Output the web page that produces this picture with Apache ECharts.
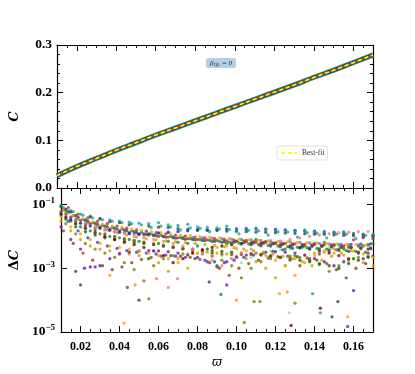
<!DOCTYPE html>
<html><head><meta charset="utf-8">
<script src="https://cdn.jsdelivr.net/npm/echarts@6/dist/echarts.min.js"></script>
<style>html,body{margin:0;padding:0;background:#fff}#c{width:415px;height:374px}</style>
</head><body><div id="c"></div>
<script>
// ---------- data ----------
const omegaFit = [0.01,0.02,0.03,0.04,0.05,0.06,0.07,0.08,0.09,0.10,0.11,0.12,0.13,0.14,0.15,0.16,0.17];
const cFit = [0.026,0.045,0.062,0.079,0.095,0.111,0.126,0.141,0.156,0.171,0.186,0.201,0.216,0.232,0.247,0.263,0.279];
const xMajorTicks = [0.02,0.04,0.06,0.08,0.10,0.12,0.14,0.16];
const xMinorTicks = [0.010,0.015,0.025,0.030,0.035,0.045,0.050,0.055,0.065,0.070,0.075,0.085,0.090,0.095,0.105,0.110,0.115,0.125,0.130,0.135,0.145,0.150,0.155,0.165,0.170];
const yTopLabels = ['0.0','0.1','0.2','0.3'];

const xsA = [0.010,0.015,0.020,0.025,0.030,0.035,0.040,0.045,0.050,0.055,0.060,0.065,0.070,0.075,0.080,0.085,0.090,0.095,0.100,0.105,0.110,0.115,0.120,0.125,0.130,0.135,0.140,0.145,0.150,0.155,0.160,0.165,0.170];
const xsB = [0.0125,0.0175,0.0225,0.0275,0.0325,0.0375,0.0425,0.0475,0.0525,0.0575,0.0625,0.0675,0.0725,0.0775,0.0825,0.0875,0.0925,0.0975,0.1025,0.1075,0.1125,0.1175,0.1225,0.1275,0.1325,0.1375,0.1425,0.1475,0.1525,0.1575,0.1625,0.1675,0.1725];
const xsC = [0.01125,0.01625,0.02125,0.02625,0.03125,0.03625,0.04125,0.04625,0.05125,0.05625,0.06125,0.06625,0.07125,0.07625,0.08125,0.08625,0.09125,0.09625,0.10125,0.10625,0.11125,0.11625,0.12125,0.12625,0.13125,0.13625,0.14125,0.14625,0.15125,0.15625,0.16125,0.16625,0.17125];
const xsD = [0.01375,0.01875,0.02375,0.02875,0.03375,0.03875,0.04375,0.04875,0.05375,0.05875,0.06375,0.06875,0.07375,0.07875,0.08375,0.08875,0.09375,0.09875,0.10375,0.10875,0.11375,0.11875,0.12375,0.12875,0.13375,0.13875,0.14375,0.14875,0.15375,0.15875,0.16375,0.16875,0.17375];

const dcSlate = [0.085,0.058,3e-4,0.041,0.036,0.029,0.027,0.023,1e-4,0.021,0.0195,0.019,0.0175,0.017,0.0162,0.0155,0.0152,0.0146,0.0144,0.0141,0.0136,0.0134,0.0131,0.0127,0.0124,0.0121,0.0117,0.0116,0.0111,0.0107,0.0105,0.0101,0.0099];
const dcTeal = [0.092,0.066,0.05,0.043,0.036,0.033,0.03,0.028,0.026,0.025,0.027,0.023,0.022,0.024,0.02,0.019,0.0185,0.021,0.017,0.0165,0.018,0.0155,0.015,0.0148,0.0144,0.016,0.0135,0.013,0.0128,0.014,0.012,0.0118,0.0115];
const dcNavy = [0.05,0.034,0.026,0.021,0.018,0.0155,0.0135,0.0122,0.0115,0.012,0.0128,0.0135,0.0142,0.015,0.0156,0.016,0.0165,0.017,0.0172,0.0174,0.0172,0.017,0.0166,0.016,0.0155,0.015,0.0146,0.014,0.0135,0.013,0.0122,0.0115,0.011];
const dcGreen = [0.05,0.03,0.02,0.015,0.012,0.01,0.009,0.008,0.007,0.002,0.006,0.007,0.0065,0.006,0.005,0.004,0.0012,0.006,0.007,0.0075,0.008,0.007,0.006,0.004,0.0025,0.005,0.006,0.0065,0.0055,0.004,0.002,0.005,0.006];
const dcRed = [0.06,0.04,0.032,0.025,0.02,0.017,0.015,0.013,0.012,0.011,0.01,0.0095,0.009,0.0085,0.008,0.0078,0.0075,0.0072,0.007,0.0068,0.0066,0.0065,0.0063,0.006,0.0058,0.0056,0.0055,0.0054,0.0052,0.005,0.0078,0.009,0.0085];
const dcOrange = [0.04,0.02,0.012,0.008,0.006,0.005,0.0045,0.004,0.0035,0.003,0.0025,0.002,0.0015,0.001,0.003,0.004,0.0045,0.005,0.0042,0.0035,0.003,0.0025,0.0018,0.0012,6e-4,0.0015,0.0025,0.0035,0.004,0.0045,0.0035,0.0028,0.0022];
const dcGold = [0.03,0.015,0.008,0.005,0.004,0.0035,0.003,0.0028,0.0025,0.002,0.0015,8e-4,0.002,0.0028,0.003,0.0032,0.003,0.0028,0.0024,0.002,0.0016,0.001,5e-4,0.0012,0.002,0.0026,0.003,0.0032,0.003,0.0026,0.002,0.0015,0.0012];
const dcPurple = [0.02,0.008,0.004,0.0011,0.0012,0.002,0.0028,0.0032,0.0035,0.0036,0.0035,0.0033,0.003,0.0026,0.0022,0.0016,0.0011,0.0016,0.0022,0.0026,0.003,0.0032,0.0033,0.0032,0.003,0.0026,0.002,0.0016,0.0012,0.0016,2e-4,0.002,0.0024];
const dcBrown = [0.05,0.03,0.022,0.016,0.012,0.01,0.0085,0.0075,0.0065,0.0058,0.005,0.0045,0.004,0.0036,0.0033,0.003,0.0028,0.0027,0.0027,0.0028,0.0027,0.0025,0.0022,0.0018,0.0012,0.002,0.0028,0.0034,0.004,0.0045,0.005,0.0055,0.006];
const dcSalmon = [0.07,0.045,0.03,0.022,0.017,0.014,0.012,0.01,0.009,0.008,0.007,0.006,0.005,0.004,0.003,0.0018,0.0012,0.002,0.003,0.004,0.005,0.006,0.007,0.008,0.009,0.01,0.011,0.012,0.013,0.0135,0.014,0.0142,0.0145];
const dcOlive = [0.025,0.012,0.006,0.004,0.003,0.0022,0.0015,9e-4,4e-4,0.0012,0.002,0.0025,0.0028,0.003,0.0028,0.0024,0.0018,0.0012,5e-4,0.001,0.0016,0.002,0.0022,0.0024,0.0022,0.0018,0.0013,8e-4,0.0012,0.0018,0.0022,0.0024,0.0025];
const dcSteel = [0.06,0.035,0.025,0.019,0.016,0.014,0.013,0.012,0.011,0.0105,0.01,0.0098,0.0095,0.0092,0.009,0.0088,0.0085,0.0082,0.008,0.0078,0.0075,0.0072,0.007,0.0068,0.0065,0.0062,0.006,0.0058,0.0056,0.0055,0.0054,0.0053,0.0052];
const dcDkGreen = [0.035,0.02,0.014,0.011,0.009,0.008,0.0072,0.0065,0.006,0.0055,0.005,0.0046,0.0042,0.004,0.0038,0.0036,0.0034,0.0032,0.003,0.0028,0.0026,0.0024,0.0022,0.002,0.0018,0.0016,0.0014,0.0012,0.001,0.0014,0.0018,0.0022,0.0026];
const dcLtGreen = [0.045,0.025,0.018,0.014,0.011,0.0095,0.0085,0.0075,0.0068,0.0062,0.0056,0.005,0.0045,0.004,0.0035,0.003,0.0025,0.002,0.0015,0.0022,0.0028,0.0034,0.0038,0.004,0.0042,0.0044,0.0046,0.0048,0.005,0.0052,0.0054,0.0055,0.0056];
const dcSlate2 = [0.07,0.045,0.033,0.026,0.021,0.018,0.016,0.014,0.012,0.011,0.01,0.009,0.0085,0.008,0.0075,0.007,0.0066,0.0062,0.0058,0.0055,0.0052,0.005,0.0048,0.0046,0.0044,0.0042,0.004,0.0038,0.0036,0.0034,0.0032,0.003,0.0028];
const dcMaroon = [0.04,0.025,0.018,0.013,0.01,0.008,0.0065,0.0055,0.0045,0.0035,0.0025,0.0015,0.002,0.003,0.0038,0.0045,0.005,0.0055,0.006,0.0062,0.006,0.0058,0.0055,0.005,0.0045,0.004,0.0035,0.003,0.0025,0.002,0.003,0.004,0.0045];
const dcTeal2 = [0.08,0.06,0.046,0.038,0.033,0.03,0.027,0.025,0.023,0.019,0.021,0.02,0.016,0.0185,0.018,0.014,0.017,0.0165,0.012,0.0155,0.015,0.011,0.014,0.0138,0.0095,0.013,0.0125,0.009,0.0118,0.0115,0.0085,0.0108,0.0105];
const dcSlate3 = [0.06,0.04,0.03,0.024,0.02,0.017,0.015,0.013,0.0115,0.0105,0.0095,0.0088,0.0082,0.0078,0.0074,0.007,0.0068,0.0066,0.0064,0.0062,0.006,0.0058,0.0056,0.0054,0.0052,0.005,0.0048,0.0046,0.0045,0.0044,0.0043,0.0042,0.0041];
const dcGreen2 = [0.07,0.045,0.034,0.027,0.022,0.019,0.017,0.015,0.0135,0.012,0.011,0.01,0.0092,0.0085,0.008,0.0075,0.007,0.0066,0.0062,0.0058,0.0055,0.0052,0.005,0.0048,0.0046,0.0044,0.0042,0.004,0.0038,0.0036,0.0034,0.0032,0.003];
const dcRed2 = [0.08,0.05,0.038,0.03,0.025,0.021,0.018,0.016,0.0145,0.013,0.012,0.011,0.0102,0.0095,0.009,0.0085,0.008,0.0076,0.0072,0.0068,0.0065,0.0062,0.006,0.0058,0.0056,0.0054,0.0052,0.005,0.0048,0.0046,0.0044,0.0042,0.004];
const dcOrange2 = [0.065,0.045,0.035,0.028,0.024,0.021,0.019,0.017,0.0155,0.014,0.013,0.012,0.011,0.0105,0.01,0.0095,0.009,0.0086,0.0082,0.0078,0.0075,0.0072,0.007,0.0068,0.0066,0.0064,0.0062,0.006,0.0058,0.0056,0.0055,0.0054,0.0053];
const dcNavy2 = [0.03,0.015,0.009,0.0065,0.005,0.0042,0.0036,0.0032,0.003,0.0028,0.0026,0.0024,0.0022,0.002,0.0018,0.0016,0.0015,0.0018,0.0022,0.0026,0.003,0.0034,0.0038,0.0042,0.0046,0.005,0.0052,0.0054,0.0055,0.0056,0.0057,0.0058,0.006];
const dcGold2 = [0.055,0.035,0.026,0.02,0.016,0.013,0.011,0.0095,0.0085,0.0078,0.0072,0.0068,0.0064,0.006,0.0056,0.0052,0.0048,0.0044,0.004,0.0036,0.0032,0.0028,0.0024,0.002,0.0016,0.0012,0.0018,0.0024,0.003,0.0036,0.004,0.0044,0.0048];
const dcBrown2 = [0.015,0.006,0.003,0.0018,0.0012,9e-4,0.0011,0.0015,0.0019,0.0022,0.0024,0.0025,0.0024,0.0022,0.0019,0.0015,0.001,6e-4,0.001,0.0014,0.0018,0.0021,0.0023,0.0024,0.0023,0.0021,0.0018,0.0014,9e-4,5e-4,0.001,0.0014,0.0017];

const outX = [0.0175,0.022,0.0275,0.035,0.0423,0.044,0.048,0.055,0.059,0.065,0.0697,0.086,0.092,0.095,0.100,0.104,0.109,0.112,0.122,0.126,0.127,0.128,0.130,0.139,0.143,0.143,0.149,0.152,0.157,0.157];
const outY = [8e-4,1.0e-3,1.1e-3,6e-4,1.9e-5,2.5e-4,3e-4,1.1e-4,4.7e-4,2.5e-4,4.7e-4,3.7e-4,1.5e-4,3e-4,1e-4,2e-5,9e-5,9e-5,1.6e-4,1.8e-4,4e-5,1.6e-5,8e-5,1.6e-4,5.6e-5,4e-5,3e-5,9e-5,1.5e-5,3e-5];
const outKind = ['slate','purple','purple','orange','orange','brown','gold','olive','salmon','salmon','salmon','purple','green','purple','orange','olive','olive','olive','orange','orange','ltgreen','maroon','olive','teal','maroon','steel','slate','slate','purple','orange'];

// ---------- styling / build ----------
const COL = {slate:'#2f4f4f', teal:'#1aa5ab', navy:'#1c1caa', navy2:'#3a3ac8', green:'#139013', red:'#d62222', orange:'#f6a400', gold:'#c9a200', purple:'#7418ab', brown:'#8b4513', salmon:'#f28080', olive:'#808000', steel:'#4a86c8', dkgreen:'#0b640b', ltgreen:'#90ee90', maroon:'#800000'};
const groups = [
  ['ltgreen', xsB, dcLtGreen], ['olive', xsB, dcOlive], ['gold', xsA, dcGold], ['purple', xsA, dcPurple],
  ['brown', xsC, dcBrown2], ['navy2', xsD, dcNavy2],
  ['orange', xsA, dcOrange], ['dkgreen', xsB, dcDkGreen], ['brown', xsB, dcBrown], ['maroon', xsB, dcMaroon],
  ['gold', xsD, dcGold2], ['steel', xsB, dcSteel], ['salmon', xsB, dcSalmon], ['green', xsA, dcGreen],
  ['green', xsC, dcGreen2], ['orange', xsC, dcOrange2], ['red', xsA, dcRed], ['red', xsD, dcRed2],
  ['slate', xsD, dcSlate3], ['slate', xsB, dcSlate2], ['navy', xsA, dcNavy], ['teal', xsC, dcTeal2],
  ['teal', xsA, dcTeal], ['slate', xsA, dcSlate]
];
const FONT = 'Liberation Serif';
const GRID_L = 52, GRID_W = 321;
const axisLine = {show:true, lineStyle:{color:'#000', width:1.2}};

function xAxes(gi, withLabels) {
  const base = {type:'value', gridIndex:gi, min:0.01, max:0.17, splitLine:{show:false}};
  const arr = [];
  ['bottom','top'].forEach(pos => {
    arr.push(Object.assign({}, base, {position:pos, axisLine:axisLine,
      axisTick:{show:true, inside:true, length:6, customValues:xMajorTicks, lineStyle:{color:'#000', width:1}},
      axisLabel: (withLabels && pos==='bottom') ? {show:true, customValues:xMajorTicks, formatter:v=>v.toFixed(2), fontFamily:FONT, fontSize:12, fontWeight:'bold', color:'#000', margin:9} : {show:false},
      name: (withLabels && pos==='bottom') ? 'ϖ' : '', nameLocation:'middle', nameGap:25,
      nameTextStyle:{fontFamily:'DejaVu Serif', fontStyle:'italic', fontSize:12, color:'#000'}}));
    arr.push(Object.assign({}, base, {position:pos, axisLine:{show:false},
      axisTick:{show:true, inside:true, length:3, customValues:xMinorTicks, lineStyle:{color:'#000', width:1}},
      axisLabel:{show:false}}));
  });
  return arr;
}

const curve = omegaFit.map((x,i)=>[x, cFit[i]]);
const series = [
  {type:'line', name:'band1', xAxisIndex:0, yAxisIndex:0, data:curve, smooth:true, symbol:'none', lineStyle:{color:'#1f9a8a', width:5.2}, silent:true},
  {type:'line', name:'band2', xAxisIndex:0, yAxisIndex:0, data:curve, smooth:true, symbol:'none', lineStyle:{color:'#2f4f4f', width:3.6}, silent:true},
  {type:'line', name:'band3', xAxisIndex:0, yAxisIndex:0, data:curve, smooth:true, symbol:'none', lineStyle:{color:'#e03a2a', width:1.6}, silent:true},
  {type:'line', name:'Best-fit', xAxisIndex:0, yAxisIndex:0, data:curve, smooth:true, symbol:'none', lineStyle:{color:'#ffff00', width:1.6, type:[4,3]}, itemStyle:{color:'#ffff00'}}
];
groups.forEach(([k, xs, ys]) => {
  series.push({type:'scatter', xAxisIndex:4, yAxisIndex:2, symbol:'circle', symbolSize:3.3,
    itemStyle:{color:COL[k]}, data: xs.map((x,i)=>[x, ys[i]])});
});
series.push({type:'scatter', xAxisIndex:4, yAxisIndex:2, symbol:'circle', symbolSize:3.3,
  data: outX.map((x,i)=>({value:[x, outY[i]], itemStyle:{color:COL[outKind[i]]}}))});

const logFmt = v => {
  const e = Math.log10(v), r = Math.round(e);
  if (Math.abs(e-r) > 1e-6 || Math.abs(r) % 2 === 0) return '';
  return '10{sup|' + (r<0?'−':'') + Math.abs(r) + '}';
};
const labRich = {sup:{fontSize:9, fontFamily:FONT, fontWeight:'bold', color:'#000', padding:[0,0,8,0]}};

const option = {
  animation:false,
  backgroundColor:'#fff',
  grid:[
    {left:GRID_L, top:45, width:GRID_W, height:143},
    {left:GRID_L, top:188, width:GRID_W, height:144}
  ],
  xAxis:[...xAxes(0,false), ...xAxes(1,true)],
  yAxis:[
    {type:'value', gridIndex:0, min:0, max:0.3, interval:0.1, position:'left', axisLine:axisLine,
      axisTick:{show:true, inside:true, length:6, lineStyle:{color:'#000'}},
      minorTick:{show:true, splitNumber:5, length:3, lineStyle:{color:'#000'}},
      splitLine:{show:false},
      axisLabel:{formatter:(v)=>yTopLabels[Math.round(v*10)], fontFamily:FONT, fontSize:13.5, fontWeight:'bold', color:'#000', margin:5},
      name:'C', nameLocation:'middle', nameGap:36, nameRotate:90,
      nameTextStyle:{fontFamily:'DejaVu Serif', fontStyle:'italic', fontWeight:'bold', fontSize:13, color:'#000'}},
    {type:'value', gridIndex:0, min:0, max:0.3, interval:0.1, position:'right', axisLine:axisLine,
      axisTick:{show:true, inside:true, length:6, lineStyle:{color:'#000'}},
      minorTick:{show:true, splitNumber:5, length:3, lineStyle:{color:'#000'}},
      splitLine:{show:false}, axisLabel:{show:false}},
    {type:'log', logBase:10, gridIndex:1, min:1e-5, max:0.33, interval:2, position:'left', axisLine:axisLine,
      axisTick:{show:true, inside:true, length:6, lineStyle:{color:'#000'}},
      splitLine:{show:false},
      axisLabel:{formatter:logFmt, rich:labRich, fontFamily:FONT, fontSize:13.5, fontWeight:'bold', color:'#000', margin:6, showMaxLabel:false},
      name:'{d|Δ}{c|C}', nameLocation:'middle', nameGap:37, nameRotate:90,
      nameTextStyle:{color:'#000', rich:{d:{fontFamily:'DejaVu Serif', fontWeight:'bold', fontSize:13, color:'#000'}, c:{fontFamily:'DejaVu Serif', fontStyle:'italic', fontWeight:'bold', fontSize:13, color:'#000'}}}},
    {type:'log', logBase:10, gridIndex:1, min:1e-5, max:0.33, interval:2, position:'right', axisLine:axisLine,
      axisTick:{show:true, inside:true, length:6, lineStyle:{color:'#000'}},
      splitLine:{show:false}, axisLabel:{show:false}}
  ],
  legend:{data:['Best-fit'], left:277, top:146, orient:'horizontal', padding:[3,3,3,3],
    itemWidth:16, itemHeight:6, itemGap:4, backgroundColor:'#fff', borderColor:'#d8d8d8', borderWidth:0.8, borderRadius:2,
    itemStyle:{opacity:0},
    textStyle:{fontFamily:FONT, fontSize:7.5, color:'#333'}},
  graphic:[{type:'group', left:206, top:58, children:[
    {type:'rect', shape:{x:0, y:0, width:30, height:10, r:2}, style:{fill:'#b3cfe6'}},
    {type:'text', x:15, y:5.5, style:{text:'β{sub|QL} = 0', align:'center', verticalAlign:'middle', fill:'#222',
      font:'italic 7px "Liberation Serif"', rich:{sub:{fontSize:5, fontFamily:FONT, fill:'#222', padding:[3,0,0,0]}}}}
  ]}],
  series: series
};
const chart = echarts.init(document.getElementById('c'), null, {renderer:'canvas'});
chart.setOption(option);
</script>
</body></html>
